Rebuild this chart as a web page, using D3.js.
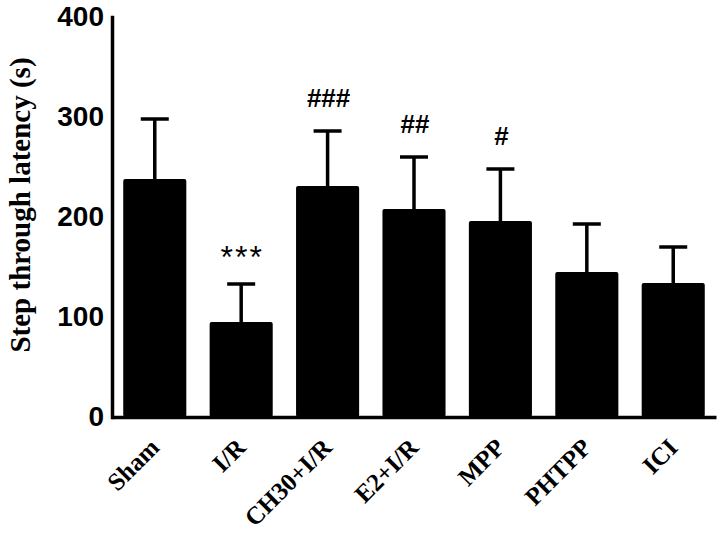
<!DOCTYPE html>
<html>
<head>
<meta charset="utf-8">
<script src="https://cdn.jsdelivr.net/npm/d3@7"></script>
<style>
  body { margin: 0; background: #fff; }
  svg { display: block; }
</style>
</head>
<body>
<svg id="chart" width="721" height="536"></svg>
<script>
// values
const groups = ["Sham", "I/R", "CH30+I/R", "E2+I/R", "MPP", "PHTPP", "ICI"];
const means = [238, 95, 231, 208, 196, 145, 134];
const sems = [60, 38, 55, 52, 52, 48, 36];
const marks = ["", "***", "###", "##", "#", "", ""];
const yTicks = [0, 100, 200, 300, 400];

const svg = d3.select("#chart");

const x = d3.scaleBand()
  .domain(groups)
  .range([112, 716])
  .paddingInner(0.27)
  .paddingOuter(0.13);

const y = d3.scaleLinear()
  .domain([0, 400])
  .range([417, 17]);

const cx = d => x(d) + x.bandwidth() / 2;

// bars
svg.append("g")
  .selectAll("rect")
  .data(groups)
  .join("rect")
  .attr("x", d => x(d))
  .attr("y", (d, i) => y(means[i]))
  .attr("width", x.bandwidth())
  .attr("height", (d, i) => y(0) - y(means[i]))
  .attr("rx", 2)
  .attr("fill", "#000");

// error bars (upper only)
const err = svg.append("g")
  .attr("stroke", "#000")
  .attr("stroke-width", 3.5);

err.selectAll(".stem")
  .data(groups)
  .join("line")
  .attr("class", "stem")
  .attr("x1", cx)
  .attr("x2", cx)
  .attr("y1", (d, i) => y(means[i]))
  .attr("y2", (d, i) => y(means[i] + sems[i]));

err.selectAll(".cap")
  .data(groups)
  .join("line")
  .attr("class", "cap")
  .attr("x1", d => cx(d) - 14)
  .attr("x2", d => cx(d) + 14)
  .attr("y1", (d, i) => y(means[i] + sems[i]))
  .attr("y2", (d, i) => y(means[i] + sems[i]));

// significance marks
svg.append("g")
  .selectAll("text")
  .data(groups)
  .join("text")
  .attr("x", d => cx(d) + 1)
  .attr("y", (d, i) => y(means[i] + sems[i]) - (marks[i] === "***" ? 16 : 24))
  .attr("text-anchor", "middle")
  .attr("font-family", "Liberation Sans, Arial, sans-serif")
  .attr("font-size", (d, i) => marks[i] === "***" ? 32 : 26)
  .attr("font-weight", (d, i) => marks[i] === "***" ? "normal" : "bold")
  .attr("letter-spacing", (d, i) => marks[i] === "***" ? 2 : 0)
  .text((d, i) => marks[i]);

// y axis
const yAxis = svg.append("g")
  .attr("transform", "translate(112,0)")
  .call(d3.axisLeft(y).tickValues(yTicks).tickSize(0).tickPadding(8));
yAxis.select(".domain").attr("stroke-width", 3.5).attr("stroke-linecap", "square");
yAxis.selectAll("text")
  .attr("font-family", "Liberation Sans, Arial, sans-serif")
  .attr("font-size", 28)
  .attr("font-weight", "bold")
  .attr("fill", "#000");

// x axis
const xAxis = svg.append("g")
  .attr("transform", "translate(0,417)")
  .call(d3.axisBottom(x).tickSize(0).tickFormat(""));
xAxis.select(".domain").attr("stroke-width", 3.5);

// slanted group labels
svg.append("g")
  .selectAll("text")
  .data(groups)
  .join("text")
  .attr("transform", d => `translate(${cx(d) + 6},449) rotate(-45)`)
  .attr("text-anchor", "end")
  .attr("font-family", "Liberation Serif, Times New Roman, serif")
  .attr("font-size", 25)
  .attr("font-weight", "bold")
  .text(d => d);

// y title
svg.append("text")
  .attr("transform", "translate(30,205) rotate(-90)")
  .attr("text-anchor", "middle")
  .attr("font-family", "Liberation Serif, Times New Roman, serif")
  .attr("font-size", 29)
  .attr("font-weight", "bold")
  .text("Step through latency (s)");
</script>
</body>
</html>
